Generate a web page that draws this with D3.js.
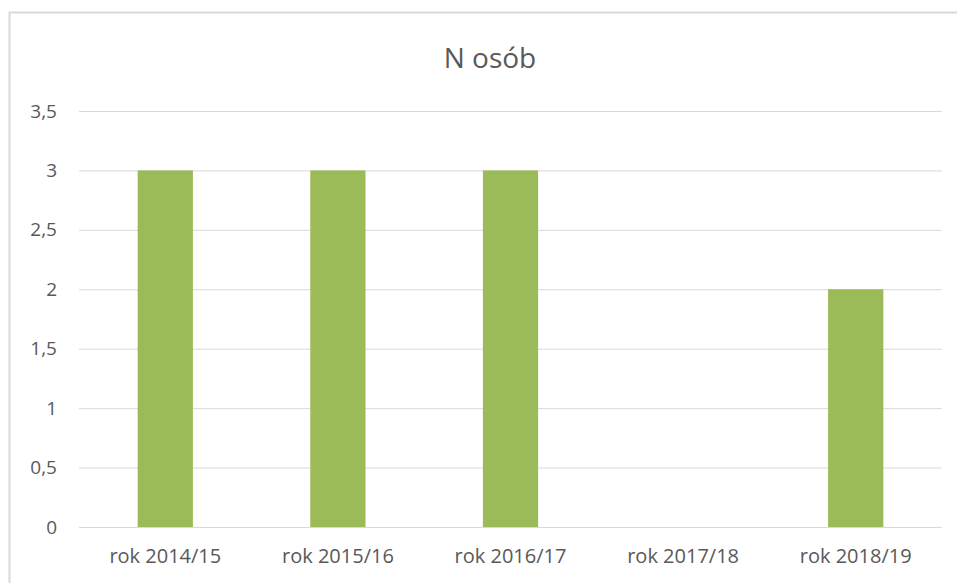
<!DOCTYPE html>
<html>
<head>
<meta charset="utf-8">
<script src="https://cdn.jsdelivr.net/npm/d3@7"></script>
<style>
  body { margin: 0; background: #fff; }
  text { font-family: "Open Sans", "Noto Sans", sans-serif; fill: #595959; }
</style>
</head>
<body>
<div class="chart"></div>
<script>
const categories = ['rok 2014/15', 'rok 2015/16', 'rok 2016/17', 'rok 2017/18', 'rok 2018/19'];
const values = [3, 3, 3, 0, 2];
const yTicks = [0, 0.5, 1, 1.5, 2, 2.5, 3, 3.5];
const title = 'N osób';

function drawChart() {
  const w = 957;
  const h = 583;
  const margin = { top: 111, right: 15, bottom: 56, left: 79 };

  const svg = d3.select('.chart')
    .append('svg')
    .attr('width', w)
    .attr('height', h);

  // chart frame
  svg.append('rect')
    .attr('x', 9.5)
    .attr('y', 12.5)
    .attr('width', 1000)
    .attr('height', 1000)
    .attr('fill', 'none')
    .attr('stroke', '#d9d9d9')
    .attr('stroke-width', 2);

  const xScale = d3.scaleBand()
    .domain(categories)
    .range([margin.left, w - margin.right])
    .paddingInner(0.68)
    .paddingOuter(0.34);

  const yScale = d3.scaleLinear()
    .domain([0, 3.5])
    .range([h - margin.bottom, margin.top]);

  const fmt = d => String(d).replace('.', ',');

  // gridlines + y labels
  const yAxis = svg.append('g')
    .attr('class', 'y-axis')
    .attr('transform', `translate(${margin.left}, 0)`)
    .call(d3.axisLeft(yScale).tickValues(yTicks).tickFormat(fmt)
      .tickSize(-(w - margin.right - margin.left)).tickPadding(22));
  yAxis.select('.domain').remove();
  yAxis.selectAll('line').attr('stroke', '#d9d9d9').attr('stroke-width', 1);
  yAxis.selectAll('text').attr('font-size', 19).attr('fill', '#595959');

  svg.selectAll('rect.bar')
    .data(values)
    .enter()
    .append('rect')
    .attr('class', 'bar')
    .attr('x', (d, i) => xScale(categories[i]))
    .attr('y', d => yScale(d))
    .attr('width', xScale.bandwidth())
    .attr('height', d => yScale(0) - yScale(d))
    .attr('fill', '#9bbb59');

  const xAxis = svg.append('g')
    .attr('class', 'x-axis')
    .attr('transform', `translate(0, ${h - margin.bottom})`)
    .call(d3.axisBottom(xScale).tickSize(0).tickPadding(22));
  xAxis.select('.domain').remove();
  xAxis.selectAll('text').attr('font-size', 20).attr('fill', '#595959');

  svg.append('text')
    .attr('x', 490)
    .attr('y', 68)
    .attr('text-anchor', 'middle')
    .attr('font-size', 28)
    .text(title);
}

drawChart();
</script>
</body>
</html>
